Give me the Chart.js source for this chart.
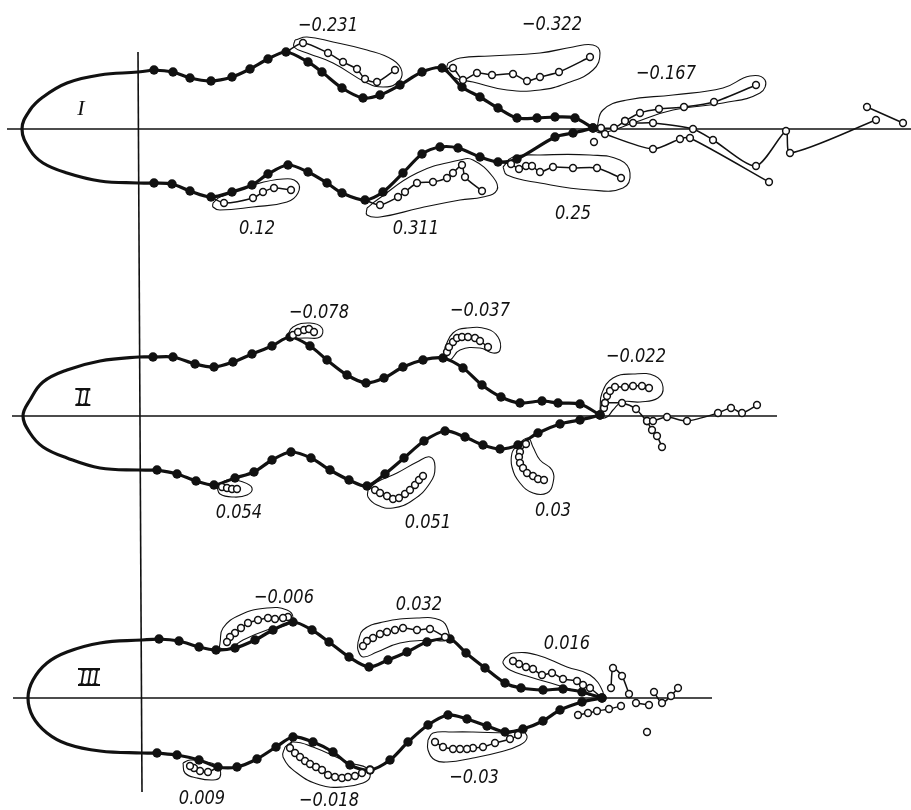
<!DOCTYPE html>
<html>
<head>
<meta charset="utf-8">
<script src="https://cdn.jsdelivr.net/npm/chart.js"></script>
<style>
  body { margin: 0; background: #fff; }
  #wrap { position: relative; width: 911px; height: 810px; }
  .lbl {
    position: absolute;
    transform: translate(-50%, -50%) scaleX(0.9);
    font-family: "DejaVu Sans Condensed", "DejaVu Sans", sans-serif;
    font-stretch: condensed;
    font-style: italic;
    font-size: 20px;
    color: #111;
    white-space: nowrap;
  }
  .roman {
    position: absolute;
    transform: translate(-50%, -50%);
    font-family: "Liberation Serif", serif;
    font-style: italic;
    font-size: 22px;
    line-height: 22px;
    color: #111;
  }
  .barred {
    font-size: 20px;
    line-height: 14px;
    border-top: 2px solid #111;
    border-bottom: 2px solid #111;
    padding: 0 1px;
  }
</style>
</head>
<body>
<div id="wrap"><canvas id="c" width="911" height="810"></canvas></div>
<script>
// axis lines (picture units)
const axis1 = [[7, 129], [911, 129]];
const axis2 = [[12, 416], [777, 416]];
const axis3 = [[13, 698], [712, 698]];
const vAxis = [[138, 52], [142, 792]];

// ---- panel I ----
const head1 = [[154,70],[138,72],[100,75],[67,83],[43,97],[30,110],[22,129],[30,150],[43,163],[67,173],[100,181],[138,183],[154,183]];
const top1 = [[154,70],[173,72],[190,78],[211,81],[232,77],[250,69],[268,59],[286,52],[308,62],[322,72],[342,88],[363,98],[380,95],[400,85],[422,72],[442,68],[462,87],[480,97],[498,108],[517,118],[537,118],[555,117],[575,118],[593,128]];
const bot1 = [[154,183],[172,184],[190,191],[211,197],[232,192],[252,185],[268,174],[288,165],[308,172],[327,183],[342,193],[365,200],[383,192],[403,173],[422,154],[440,147],[458,148],[480,157],[498,162],[517,159],[555,137],[573,133],[593,128]];
const open231 = [[286,52],[303,43],[328,53],[343,62],[357,69],[365,79],[377,82],[395,70]];
const open322 = [[443,70],[453,68],[463,80],[477,73],[492,75],[513,74],[527,81],[540,77],[559,72],[590,57]];
const open167 = [[593,128],[601,128],[614,128],[625,121],[640,113],[659,109],[684,107],[714,102],[756,85]];
const open12 = [[211,197],[224,203],[253,198],[263,192],[274,188],[291,190]];
const open311 = [[365,200],[380,205],[398,197],[405,192],[417,183],[433,182],[447,178],[453,173],[462,165],[465,177],[482,191]];
const open25 = [[498,162],[511,164],[519,169],[526,166],[532,166],[540,172],[553,167],[573,168],[597,168],[621,178]];
const tail1a = [[593,128],[605,134],[653,149],[680,139],[690,138],[769,182]];
const tail1b = [[625,121],[633,123],[653,123],[693,129],[713,140],[756,166],[786,131],[790,153],[876,120]];
const tail1c = [[867,107],[903,123]];
const loose1 = [[594,142]];
const ring231 = [[295,40],[307,37],[333,42],[367,50],[393,60],[402,72],[397,83],[383,87],[367,83],[333,63],[307,53],[294,47]];
const ring322 = [[448,63],[460,58],[490,56],[540,53],[573,47],[593,45],[600,53],[593,70],[567,83],[540,90],[507,90],[473,82],[453,77],[447,68]];
const ring167 = [[597,127],[603,110],[627,100],[673,95],[723,88],[750,76],[765,80],[760,93],[723,103],[673,110],[633,123],[607,132],[597,132]];
const ring12 = [[213,203],[220,197],[253,185],[283,179],[297,182],[298,193],[287,202],[253,207],[220,210],[213,207]];
const ring311 = [[367,208],[377,200],[417,173],[460,160],[473,160],[493,177],[497,190],[483,197],[460,200],[420,208],[380,217],[367,215]];
const ring25 = [[503,167],[513,157],[540,155],[590,155],[620,160],[630,173],[623,188],[590,190],[540,183],[507,175]];

// ---- panel II ----
const head2 = [[153,357],[139,357],[100,361],[67,370],[43,382],[30,400],[23,416],[30,433],[43,447],[67,458],[100,468],[139,470],[157,470]];
const top2 = [[153,357],[173,357],[195,364],[214,367],[233,362],[252,354],[272,346],[290,337],[310,346],[327,360],[347,375],[366,383],[384,378],[403,367],[423,360],[443,358],[463,368],[482,385],[501,397],[520,403],[542,401],[558,403],[580,404],[600,415]];
const bot2 = [[157,470],[177,474],[196,481],[214,485],[235,478],[254,472],[272,460],[291,452],[311,458],[330,470],[349,480],[367,486],[385,474],[404,458],[424,441],[445,431],[465,437],[483,445],[500,449],[518,445],[538,433],[560,424],[580,420],[600,415]];
const open078 = [[290,337],[293,335],[298,332],[304,330],[309,329],[314,332]];
const open037 = [[443,358],[447,352],[449,347],[453,342],[457,338],[462,337],[468,337],[475,338],[480,341],[488,347]];
const open022 = [[600,415],[604,408],[605,403],[607,396],[610,391],[615,387],[625,387],[633,386],[642,386],[649,388]];
const open054 = [[214,485],[222,487],[227,488],[232,489],[237,489]];
const open051 = [[367,486],[375,490],[380,493],[387,496],[393,499],[399,498],[405,494],[410,490],[415,485],[419,480],[423,476]];
const open03b = [[518,445],[526,444],[520,452],[519,457],[520,463],[523,468],[527,473],[533,476],[538,479],[544,480]];
const tail2a = [[605,403],[622,403],[636,409],[647,421],[653,421],[667,417],[687,421],[718,413],[731,408],[742,413],[757,405]];
const tail2b = [[647,421],[652,430],[657,436],[662,447]];
const ring078 = [[287,337],[293,327],[310,323],[322,328],[320,337],[307,338],[290,338]];
const ring037 = [[445,347],[453,333],[467,328],[487,329],[498,337],[500,350],[493,353],[480,348],[460,350],[450,360],[445,357]];
const ring022 = [[600,410],[602,393],[613,378],[633,374],[655,376],[663,387],[658,398],[640,402],[622,402],[613,410],[607,417],[600,417]];
const ring054 = [[217,487],[227,480],[243,482],[252,488],[247,495],[233,497],[220,494]];
const ring051 = [[368,490],[377,482],[397,473],[417,462],[430,457],[435,467],[430,483],[413,500],[393,508],[377,505],[368,497]];
const ring03b = [[517,445],[528,438],[533,447],[540,460],[552,470],[553,483],[547,493],[533,493],[520,483],[512,467],[512,453]];

// ---- panel III ----
const head3 = [[159,639],[142,640],[100,643],[67,652],[47,663],[33,680],[28,698],[33,717],[47,733],[67,744],[100,751],[142,753],[157,753]];
const top3 = [[159,639],[179,641],[199,647],[216,650],[235,648],[255,640],[273,630],[293,622],[312,630],[329,642],[349,657],[369,667],[388,660],[407,652],[427,642],[450,639],[466,653],[485,668],[505,683],[521,688],[543,690],[563,689],[582,692],[602,698]];
const bot3 = [[157,753],[177,755],[199,760],[218,767],[237,767],[257,759],[276,747],[293,737],[313,742],[333,752],[350,765],[370,770],[390,760],[408,742],[428,725],[448,715],[467,719],[487,726],[505,732],[523,729],[543,721],[560,710],[582,702],[602,698]];
const open006 = [[293,622],[288,617],[283,618],[275,619],[268,618],[258,620],[248,623],[241,628],[235,633],[230,637],[227,642]];
const open032 = [[450,639],[445,637],[430,629],[417,630],[403,628],[395,630],[387,632],[380,634],[373,638],[367,641],[363,646]];
const open016 = [[602,698],[590,688],[583,685],[577,681],[563,679],[552,673],[542,675],[533,669],[526,667],[519,664],[513,661]];
const open009 = [[218,767],[208,772],[200,771],[194,768],[190,766]];
const open018 = [[293,737],[290,748],[295,753],[300,757],[305,761],[310,764],[316,767],[322,770],[328,775],[335,777],[342,778],[348,777],[355,776],[362,773],[370,770]];
const open03c = [[523,729],[518,735],[510,739],[495,743],[483,747],[473,748],[467,749],[460,749],[453,749],[443,747],[435,742]];
const tail3a = [[578,715],[588,713],[597,711],[609,709],[621,706]];
const tail3b = [[611,688],[613,668],[622,676],[629,694]];
const tail3c = [[636,703],[649,705]];
const tail3d = [[654,692],[662,703],[671,696],[678,688]];
const loose3 = [[647,732]];
const ring006 = [[220,643],[223,628],[240,615],[267,608],[287,610],[293,618],[287,625],[267,630],[243,640],[230,648],[220,648]];
const ring032 = [[358,642],[363,630],[383,622],[417,618],[440,620],[448,630],[447,640],[430,640],[400,643],[377,652],[363,657],[358,650]];
const ring016 = [[505,658],[513,653],[537,655],[567,667],[590,675],[603,692],[600,697],[583,693],[557,685],[530,677],[510,670],[503,663]];
const ring009 = [[183,763],[190,760],[207,762],[218,767],[220,777],[213,780],[197,778],[185,773]];
const ring018 = [[285,747],[293,742],[313,747],[350,763],[367,768],[370,777],[363,783],[343,787],[320,785],[297,773],[283,757]];
const ring03c = [[428,740],[433,733],[453,732],[473,732],[507,733],[523,732],[527,738],[520,745],[500,752],[473,758],[447,762],[435,760],[428,750]];

// labels
const labelText = ["−0.231","−0.322","−0.167","0.12","0.311","0.25",
                   "−0.078","−0.037","−0.022","0.054","0.051","0.03",
                   "−0.006","0.032","0.016","0.009","−0.018","−0.03"];
const labelPos = [[328,24],[552,23],[666,72],[257,227],[416,227],[573,212],
                  [319,311],[480,309],[636,355],[239,511],[428,521],[553,509],
                  [284,596],[419,603],[567,642],[202,797],[329,799],[474,776]];
const romanText = ["I", "II", "III"];
const romanPos = [[81,108],[83,397],[89,677]];

const pts = a => a.map(p => ({ x: p[0], y: p[1] }));
const ink = "#111";

function axisSet(a) {
  return { data: pts(a), showLine: true, borderColor: ink, borderWidth: 1.6, pointRadius: 0, tension: 0, order: 5 };
}
function headSet(a) {
  return { data: pts(a), showLine: true, borderColor: ink, borderWidth: 3.2, pointRadius: 0, tension: 0.4, order: 3 };
}
function dotSet(a) {
  return { data: pts(a), showLine: true, borderColor: ink, borderWidth: 3.2, pointRadius: 4.7,
           pointBackgroundColor: ink, pointBorderColor: ink, pointBorderWidth: 0, tension: 0.3, order: 2 };
}
// open circles; first point sits on a filled dot so it is not drawn
function openSet(a, skipFirst) {
  return { data: pts(a), showLine: true, borderColor: ink, borderWidth: 1.5,
           pointRadius: c => (skipFirst && c.dataIndex === 0 ? 0 : 3.4),
           pointBackgroundColor: "#fff", pointBorderColor: ink, pointBorderWidth: 1.5, tension: 0.25, order: 1 };
}
function ringSet(a) {
  return { data: pts(a.concat([a[0]])), showLine: true, borderColor: ink, borderWidth: 1.1, pointRadius: 0, tension: 0.45, order: 4 };
}

const datasets = [
  axisSet(axis1), axisSet(axis2), axisSet(axis3), axisSet(vAxis),
  headSet(head1), headSet(head2), headSet(head3),
  dotSet(top1), dotSet(bot1), dotSet(top2), dotSet(bot2), dotSet(top3), dotSet(bot3),
  openSet(open231, true), openSet(open322, true), openSet(open167, true), openSet(open12, true),
  openSet(open311, true), openSet(open25, true), openSet(tail1a, true), openSet(tail1b, false),
  openSet(tail1c, false), openSet(loose1, false),
  openSet(open078, true), openSet(open037, true), openSet(open022, true), openSet(open054, true),
  openSet(open051, true), openSet(open03b, true), openSet(tail2a, false), openSet(tail2b, false),
  openSet(open006, true), openSet(open032, true), openSet(open016, true), openSet(open009, true),
  openSet(open018, true), openSet(open03c, true), openSet(tail3a, false), openSet(tail3b, false),
  openSet(tail3c, false), openSet(tail3d, false), openSet(loose3, false),
  ringSet(ring231), ringSet(ring322), ringSet(ring167), ringSet(ring12), ringSet(ring311), ringSet(ring25),
  ringSet(ring078), ringSet(ring037), ringSet(ring022), ringSet(ring054), ringSet(ring051), ringSet(ring03b),
  ringSet(ring006), ringSet(ring032), ringSet(ring016), ringSet(ring009), ringSet(ring018), ringSet(ring03c)
];

// put the numbers as html text at positions from the chart scales
const labelPlugin = {
  id: "labels",
  afterRender(chart) {
    if (chart._lblDone) return;
    chart._lblDone = true;
    const wrap = document.getElementById("wrap");
    const sx = chart.scales.x, sy = chart.scales.y;
    const add = (txt, p, cls) => {
      const d = document.createElement("div");
      d.className = cls;
      d.textContent = txt;
      d.style.left = sx.getPixelForValue(p[0]) + "px";
      d.style.top = sy.getPixelForValue(p[1]) + "px";
      wrap.appendChild(d);
    };
    labelText.forEach((t, i) => add(t, labelPos[i], "lbl"));
    romanText.forEach((t, i) => add(t, romanPos[i], i > 0 ? "roman barred" : "roman"));
  }
};

new Chart(document.getElementById("c"), {
  type: "scatter",
  data: { datasets: datasets },
  options: {
    responsive: false,
    animation: false,
    layout: { padding: 0, autoPadding: false },
    plugins: { legend: { display: false }, tooltip: { enabled: false } },
    scales: {
      x: { type: "linear", min: 0, max: 911, display: false },
      y: { type: "linear", min: 0, max: 810, reverse: true, display: false }
    }
  },
  plugins: [labelPlugin]
});
</script>
</body>
</html>
